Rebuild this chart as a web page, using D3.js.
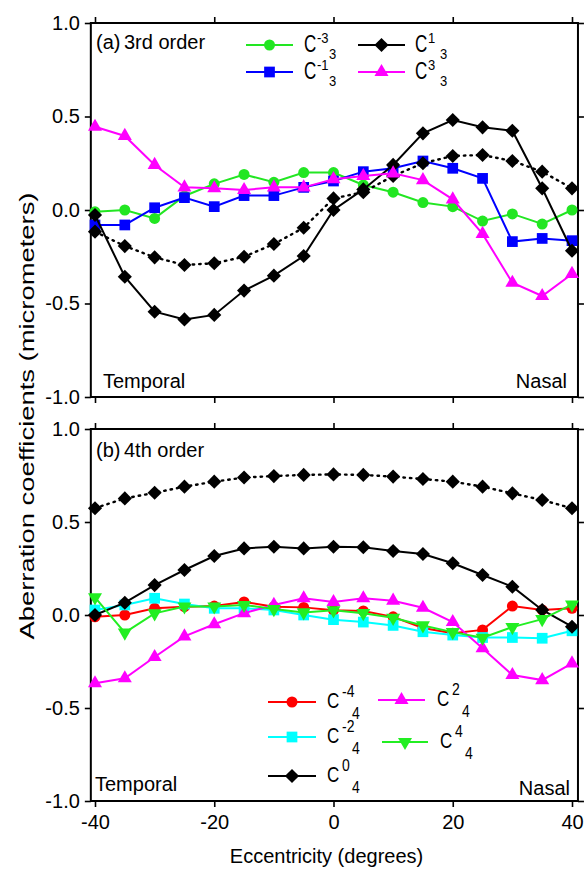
<!DOCTYPE html>
<html>
<head>
<meta charset="utf-8">
<script src="https://cdn.jsdelivr.net/npm/d3@7"></script>
<style>
  body { margin: 0; background: #fff; }
  svg { display: block; font-family: "Liberation Sans", Arial, sans-serif; }
</style>
</head>
<body>
<svg id="chart" width="585" height="869"></svg>
<script>
// eccentricity (degrees), same for every series
const eccentricity = [-40, -35, -30, -25, -20, -15, -10, -5, 0, 5, 10, 15, 20, 25, 30, 35, 40];
const xTicks = [-40, -20, 0, 20, 40];
const yTicks = [-1, -0.5, 0, 0.5, 1];

// (a) 3rd order
const c3m3 = [-0.01, 0.0, -0.045, 0.075, 0.14, 0.19, 0.148, 0.2, 0.2, 0.134, 0.095, 0.04, 0.018, -0.059, -0.021, -0.075, 0.0];
const c3m1 = [-0.08, -0.08, 0.012, 0.066, 0.018, 0.077, 0.077, 0.121, 0.155, 0.205, 0.223, 0.262, 0.223, 0.169, -0.169, -0.152, -0.164];
const c3p1 = [-0.027, -0.357, -0.544, -0.585, -0.561, -0.431, -0.351, -0.246, 0.0, 0.11, 0.241, 0.41, 0.481, 0.442, 0.424, 0.116, -0.218];
const c3p3 = [0.445, 0.396, 0.241, 0.121, 0.116, 0.107, 0.121, 0.121, 0.165, 0.182, 0.196, 0.16, 0.057, -0.128, -0.389, -0.46, -0.342];
const c3dotted = [-0.116, -0.193, -0.253, -0.294, -0.285, -0.25, -0.182, -0.095, 0.062, 0.095, 0.182, 0.25, 0.289, 0.294, 0.262, 0.205, 0.116];

// (b) 4th order
const c4m4 = [-0.01, 0.0, 0.036, 0.045, 0.048, 0.07, 0.045, 0.041, 0.025, 0.022, -0.01, -0.07, -0.098, -0.08, 0.048, 0.027, 0.036];
const c4m2 = [0.027, 0.054, 0.09, 0.059, 0.036, 0.036, 0.027, 0.0, -0.025, -0.038, -0.056, -0.09, -0.108, -0.121, -0.121, -0.125, -0.085];
const c40 = [0.0, 0.066, 0.161, 0.242, 0.317, 0.358, 0.367, 0.358, 0.367, 0.364, 0.344, 0.328, 0.278, 0.215, 0.152, 0.027, -0.063];
const c4p2 = [-0.367, -0.34, -0.226, -0.115, -0.05, 0.01, 0.054, 0.09, 0.07, 0.09, 0.077, 0.039, -0.038, -0.179, -0.323, -0.35, -0.26];
const c4p4 = [0.095, -0.095, 0.009, 0.046, 0.046, 0.054, 0.032, 0.014, 0.025, 0.01, -0.015, -0.056, -0.092, -0.122, -0.065, -0.022, 0.056];
const c4dotted = [0.574, 0.627, 0.657, 0.69, 0.717, 0.739, 0.747, 0.753, 0.756, 0.753, 0.744, 0.731, 0.717, 0.69, 0.654, 0.618, 0.574];

const symbols = {
  circle: {type: d3.symbolCircle, size: 95, rot: 0},
  square: {type: d3.symbolSquare, size: 115, rot: 0},
  diamond: {type: d3.symbolSquare, size: 100, rot: 45},
  up: {type: d3.symbolTriangle, size: 85, rot: 0},
  down: {type: d3.symbolTriangle, size: 85, rot: 180}
};

const x = d3.scaleLinear().domain([-40, 40]).range([95, 572]);
const xEdge = [-40.7, 41];

const panels = [
  {
    y: d3.scaleLinear().domain([-1, 1]).range([397, 23]),
    tag: '(a)', title: '3rd order', tagY: 49,
    temporal: [103, 388], nasal: [567, 388],
    series: [
      {values: c3m3, color: '#22e622', sym: 'circle', sup: '-3', sub: '3', leg: {row: 45, line: [246, 293], text: 304}},
      {values: c3m1, color: '#0000ff', sym: 'square', sup: '-1', sub: '3', leg: {row: 72, line: [246, 293], text: 304}},
      {values: c3dotted, color: '#000', sym: 'diamond', dotted: true},
      {values: c3p1, color: '#000', sym: 'diamond', sup: '1', sub: '3', leg: {row: 45, line: [358, 405], text: 415}},
      {values: c3p3, color: '#ff00ff', sym: 'up', sup: '3', sub: '3', leg: {row: 72, line: [358, 405], text: 415}}
    ],
    legFont: {c: 17, cs: 1.42, s: 13, ss: 1.15, cDy: 7, supDx: 13, supDy: -2, subDx: 25, subDy: 14}
  },
  {
    y: d3.scaleLinear().domain([-1, 1]).range([801, 429]),
    tag: '(b)', title: '4th order', tagY: 457,
    temporal: [95, 791], nasal: [570, 795],
    series: [
      {values: c4dotted, color: '#000', sym: 'diamond', dotted: true},
      {values: c4m4, color: '#ff0000', sym: 'circle', sup: '-4', sub: '4', leg: {row: 702, line: [268, 316], text: 327}},
      {values: c4m2, color: '#00ffff', sym: 'square', sup: '-2', sub: '4', leg: {row: 737, line: [268, 316], text: 327}},
      {values: c40, color: '#000', sym: 'diamond', sup: '0', sub: '4', leg: {row: 776, line: [268, 316], text: 327}},
      {values: c4p2, color: '#ff00ff', sym: 'up', sup: '2', sub: '4', leg: {row: 700, line: [378, 425], text: 437}},
      {values: c4p4, color: '#22ee22', sym: 'down', sup: '4', sub: '4', leg: {row: 742, line: [382, 428], text: 440}}
    ],
    legFont: {c: 17, cs: 1.25, s: 14, ss: 1.12, cDy: 6, supDx: 15, supDy: -5, subDx: 25, subDy: 17}
  }
];

const svg = d3.select('#chart');

const symbolPath = key => d3.symbol().type(symbols[key].type).size(symbols[key].size)();

// text stretched vertically, like the scanned figure
const stretchedText = (g, str, tx, ty, size, sy) => g.append('text')
  .attr('transform', `translate(${tx},${ty}) scale(1,${sy})`)
  .attr('font-size', size)
  .text(str);

panels.forEach(p => {
  const y = p.y;
  const g = svg.append('g');
  const [top, bottom] = [y(1), y(-1)];

  // axes: ticks point outward on all four sides
  g.append('g')
    .attr('transform', `translate(${x(xEdge[0])},0)`)
    .call(d3.axisLeft(y).tickValues(yTicks).tickSize(6).tickPadding(5).tickFormat(d => d.toFixed(1)))
    .call(a => a.selectAll('text').attr('font-size', 20).attr('fill', '#000'));
  g.append('g')
    .attr('transform', `translate(${x(xEdge[1])},0)`)
    .call(d3.axisRight(y).tickValues(yTicks).tickSize(6).tickFormat(''));
  g.append('g')
    .attr('transform', `translate(0,${top})`)
    .call(d3.axisTop(x).tickValues(xTicks).tickSize(6).tickFormat(''));
  const bottomAxis = d3.axisBottom(x).tickValues(xTicks).tickSize(6).tickPadding(8)
    .tickFormat(p.tag === '(b)' ? d => String(d) : '');
  g.append('g')
    .attr('transform', `translate(0,${bottom})`)
    .call(bottomAxis)
    .call(a => a.selectAll('text').attr('font-size', 20).attr('fill', '#000'));
  g.selectAll('.domain').remove();
  g.selectAll('.tick line').attr('stroke', '#000').attr('stroke-width', 1.6);

  g.append('rect')
    .attr('x', x(xEdge[0])).attr('y', top)
    .attr('width', x(xEdge[1]) - x(xEdge[0])).attr('height', bottom - top)
    .attr('fill', 'none').attr('stroke', '#000').attr('stroke-width', 2);

  const line = d3.line().x((d, i) => x(eccentricity[i])).y(d => y(d));

  p.series.forEach(s => {
    g.append('path')
      .attr('d', line(s.values))
      .attr('fill', 'none')
      .attr('stroke', s.color)
      .attr('stroke-width', s.dotted ? 2.4 : 2)
      .attr('stroke-dasharray', s.dotted ? '1.5,5' : null)
      .attr('stroke-linecap', s.dotted ? 'round' : 'butt');
    g.append('g').selectAll('path')
      .data(s.values).enter().append('path')
      .attr('d', symbolPath(s.sym))
      .attr('transform', (d, i) => `translate(${x(eccentricity[i])},${y(d)}) rotate(${symbols[s.sym].rot})`)
      .attr('fill', s.color);
  });

  // panel labels
  g.append('text').attr('x', 96).attr('y', p.tagY).attr('font-size', 20).text(p.tag);
  g.append('text').attr('x', 124).attr('y', p.tagY).attr('font-size', 20).text(p.title);
  g.append('text').attr('x', p.temporal[0]).attr('y', p.temporal[1]).attr('font-size', 20).text('Temporal');
  g.append('text').attr('x', p.nasal[0]).attr('y', p.nasal[1]).attr('font-size', 20)
    .attr('text-anchor', 'end').text('Nasal');

  // legend
  const f = p.legFont;
  p.series.filter(s => s.leg).forEach(s => {
    const lg = g.append('g');
    lg.append('line')
      .attr('x1', s.leg.line[0]).attr('x2', s.leg.line[1])
      .attr('y1', s.leg.row).attr('y2', s.leg.row)
      .attr('stroke', s.color).attr('stroke-width', 2);
    lg.append('path')
      .attr('d', symbolPath(s.sym))
      .attr('transform', `translate(${(s.leg.line[0] + s.leg.line[1]) / 2},${s.leg.row}) rotate(${symbols[s.sym].rot})`)
      .attr('fill', s.color);
    stretchedText(lg, 'C', s.leg.text, s.leg.row + f.cDy, f.c, f.cs);
    stretchedText(lg, s.sup, s.leg.text + f.supDx, s.leg.row + f.supDy, f.s, f.ss);
    stretchedText(lg, s.sub, s.leg.text + f.subDx, s.leg.row + f.subDy, f.s, f.ss);
  });
});

svg.append('text')
  .attr('x', x(0) - 7).attr('y', 863)
  .attr('text-anchor', 'middle')
  .attr('font-size', 20)
  .text('Eccentricity (degrees)');

svg.append('text')
  .attr('transform', 'translate(34,416) rotate(-90)')
  .attr('text-anchor', 'middle')
  .attr('font-size', 21)
  .attr('textLength', 447)
  .attr('lengthAdjust', 'spacingAndGlyphs')
  .text('Aberration coefficients (micrometers)');
</script>
</body>
</html>
